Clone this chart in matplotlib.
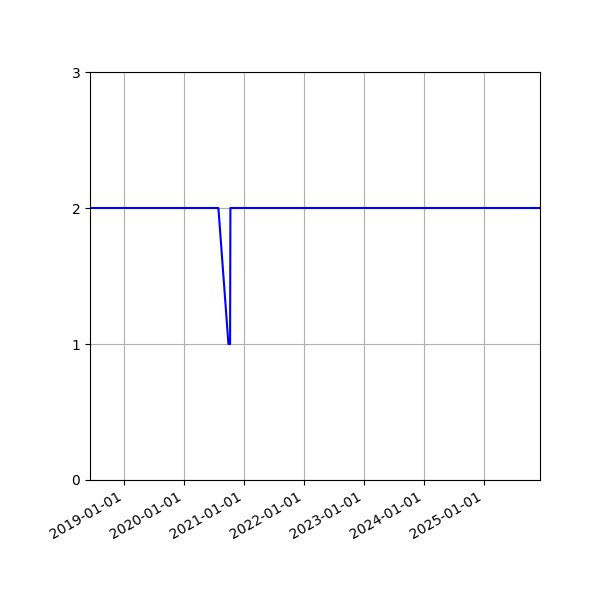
import matplotlib
matplotlib.use("Agg")
import matplotlib.pyplot as plt
import matplotlib.dates as mdates
import pandas as pd

# ── Data ──────────────────────────────────────────────────────────────────────
dates = pd.to_datetime([
    "2018-06-10", "2020-07-30", "2020-09-29", "2020-10-09",
    "2020-10-11", "2025-12-07",
])
values = [2, 2, 1, 1, 2, 2]
yticks = [0, 1, 2, 3]

fig, ax = plt.subplots(figsize=(6, 6), dpi=100)
ax.plot(dates, values, color="blue")
ax.set_xlim(dates[0], dates[-1])
ax.set_ylim(0, 3)
ax.set_yticks(yticks)
ax.xaxis.set_major_locator(mdates.YearLocator())
ax.xaxis.set_major_formatter(mdates.DateFormatter("%Y-%m-%d"))
ax.grid(True)
fig.autofmt_xdate()
fig.subplots_adjust(left=0.15)

fig.savefig("out.png", dpi=100)
